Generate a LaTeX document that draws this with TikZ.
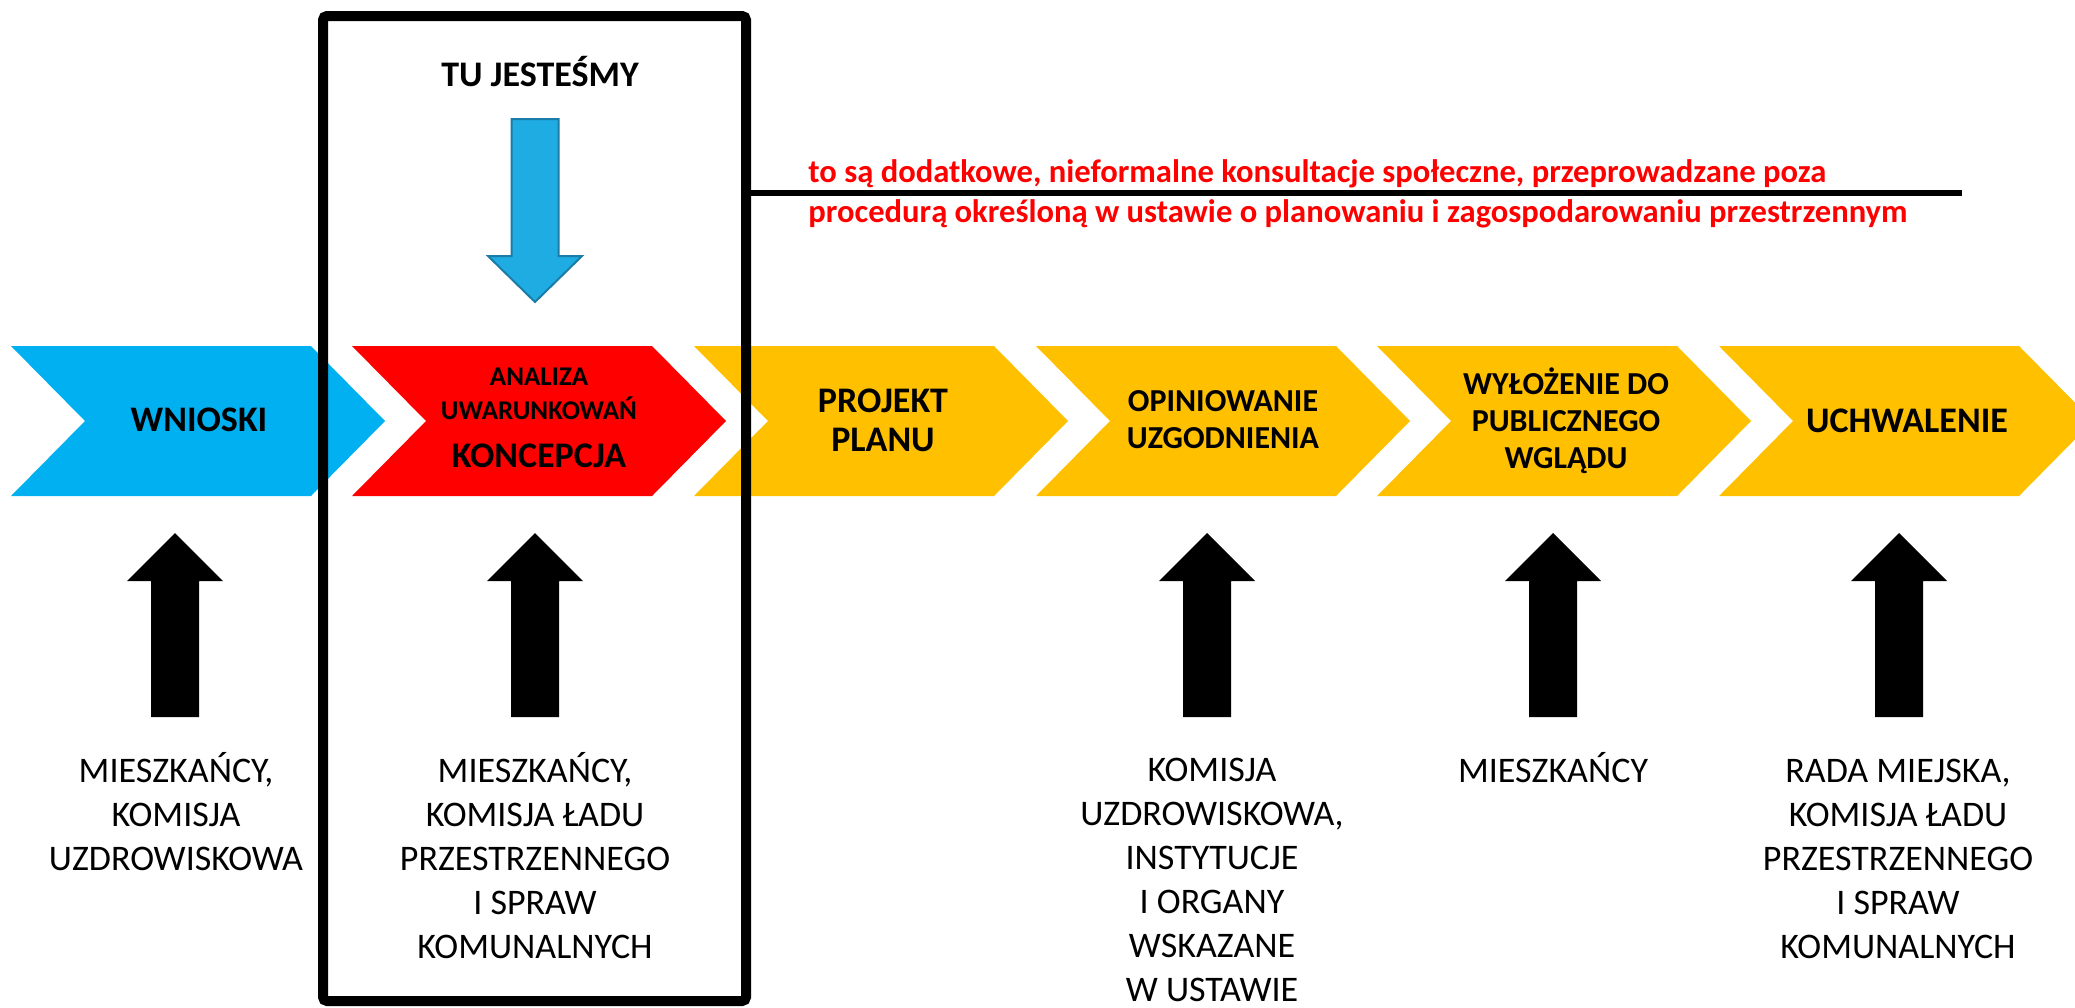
\documentclass[tikz,border=0pt]{standalone}
\usepackage{fontspec}
\setmainfont{Carlito}
\usepackage{xcolor}

\definecolor{chevblue}{RGB}{0,176,240}
\definecolor{chevred}{RGB}{255,0,0}
\definecolor{chevyellow}{RGB}{255,192,0}
\definecolor{hereblue}{RGB}{30,172,226}
\definecolor{hereedge}{RGB}{28,124,168}

\begin{document}
\begin{tikzpicture}[
		x=0.5pt, y=-0.5pt,
		steptext/.style={align=center, inner sep=0pt, font=\bfseries\fontsize{18}{19.5}\selectfont},
		stepsmall/.style={align=center, inner sep=0pt, font=\bfseries\fontsize{16}{18.5}\selectfont},
		steptiny/.style={align=center, inner sep=0pt, font=\bfseries\fontsize{13.5}{16.75}\selectfont},
		whotext/.style={align=center, inner sep=0pt, font=\fontsize{18}{22}\selectfont},
		notetext/.style={align=left, inner sep=0pt, text=red, font=\bfseries\fontsize{16.3}{20}\selectfont},
		herebox/.style={draw=black, line width=5pt, rounded corners=2pt, minimum width=211.5pt, minimum height=492.5pt, inner sep=0pt},
	]
		\useasboundingbox (0,0) rectangle (2075,1007);

		% chevrons
		\fill[chevblue]   (11,346)   -- ++(300,0) -- ++(74,75) -- ++(-74,75) -- ++(-300,0) -- ++(74,-75) -- cycle;
		\fill[chevred]    (352,346)  -- ++(300,0) -- ++(74,75) -- ++(-74,75) -- ++(-300,0) -- ++(74,-75) -- cycle;
		\fill[chevyellow] (694,346)  -- ++(300,0) -- ++(74,75) -- ++(-74,75) -- ++(-300,0) -- ++(74,-75) -- cycle;
		\fill[chevyellow] (1036,346) -- ++(300,0) -- ++(74,75) -- ++(-74,75) -- ++(-300,0) -- ++(74,-75) -- cycle;
		\fill[chevyellow] (1377,346) -- ++(300,0) -- ++(74,75) -- ++(-74,75) -- ++(-300,0) -- ++(74,-75) -- cycle;
		\fill[chevyellow] (1719,346) -- ++(300,0) -- ++(74,75) -- ++(-74,75) -- ++(-300,0) -- ++(74,-75) -- cycle;

		% nodes
		\node[herebox] (here) at (534.5,508.5) {};
		\node[steptext] (tujestesmy) at (540,72) {TU JESTEŚMY};
		\node[steptext] (wnioski) at (199,420) {WNIOSKI};
		\node[steptiny] (analiza) at (539,394) {ANALIZA\\UWARUNKOWAŃ};
		\node[steptext] (koncepcja) at (539,456) {KONCEPCJA};
		\node[steptext] (projekt) at (883,420) {PROJEKT\\PLANU};
		\node[stepsmall] (opiniowanie) at (1223,420) {OPINIOWANIE\\UZGODNIENIA};
		\node[stepsmall] (wylozenie) at (1566,421) {WYŁOŻENIE DO\\PUBLICZNEGO\\WGLĄDU};
		\node[steptext] (uchwalenie) at (1907,421) {UCHWALENIE};

		\node[whotext] (who1) at (176,812) {MIESZKAŃCY,\\KOMISJA\\UZDROWISKOWA};
		\node[whotext] (who2) at (535,856) {MIESZKAŃCY,\\KOMISJA ŁADU\\PRZESTRZENNEGO\\I SPRAW\\KOMUNALNYCH};
		\node[whotext] (who3) at (1212,880) {KOMISJA\\UZDROWISKOWA,\\INSTYTUCJE\\I ORGANY\\WSKAZANE\\W USTAWIE};
		\node[whotext] (who4) at (1553,768) {MIESZKAŃCY};
		\node[whotext] (who5) at (1898,859) {RADA MIEJSKA,\\KOMISJA ŁADU\\PRZESTRZENNEGO\\I SPRAW\\KOMUNALNYCH};

		% lines
		\coordinate (lineend) at (1962,193);
		\draw[line width=3pt] (here.east |- lineend) -- (lineend);
		\node[notetext, anchor=west] (informal) at (808,194) {to są dodatkowe, nieformalne konsultacje społeczne, przeprowadzane poza\\procedurą określoną w ustawie o planowaniu i zagospodarowaniu przestrzennym};

		% arrows
		\filldraw[fill=hereblue, draw=hereedge, line width=1pt] (535,302) -- (582,256) -- (558.5,256) -- (558.5,119) -- (511.5,119) -- (511.5,256) -- (488,256) -- cycle;
		\fill (175,533)  -- ++(48,48) -- ++(-24,0) -- ++(0,136) -- ++(-48,0) -- ++(0,-136) -- ++(-24,0) -- cycle;
		\fill (535,533)  -- ++(48,48) -- ++(-24,0) -- ++(0,136) -- ++(-48,0) -- ++(0,-136) -- ++(-24,0) -- cycle;
		\fill (1207,533) -- ++(48,48) -- ++(-24,0) -- ++(0,136) -- ++(-48,0) -- ++(0,-136) -- ++(-24,0) -- cycle;
		\fill (1553,533) -- ++(48,48) -- ++(-24,0) -- ++(0,136) -- ++(-48,0) -- ++(0,-136) -- ++(-24,0) -- cycle;
		\fill (1899,533) -- ++(48,48) -- ++(-24,0) -- ++(0,136) -- ++(-48,0) -- ++(0,-136) -- ++(-24,0) -- cycle;
	\end{tikzpicture}
\end{document}
